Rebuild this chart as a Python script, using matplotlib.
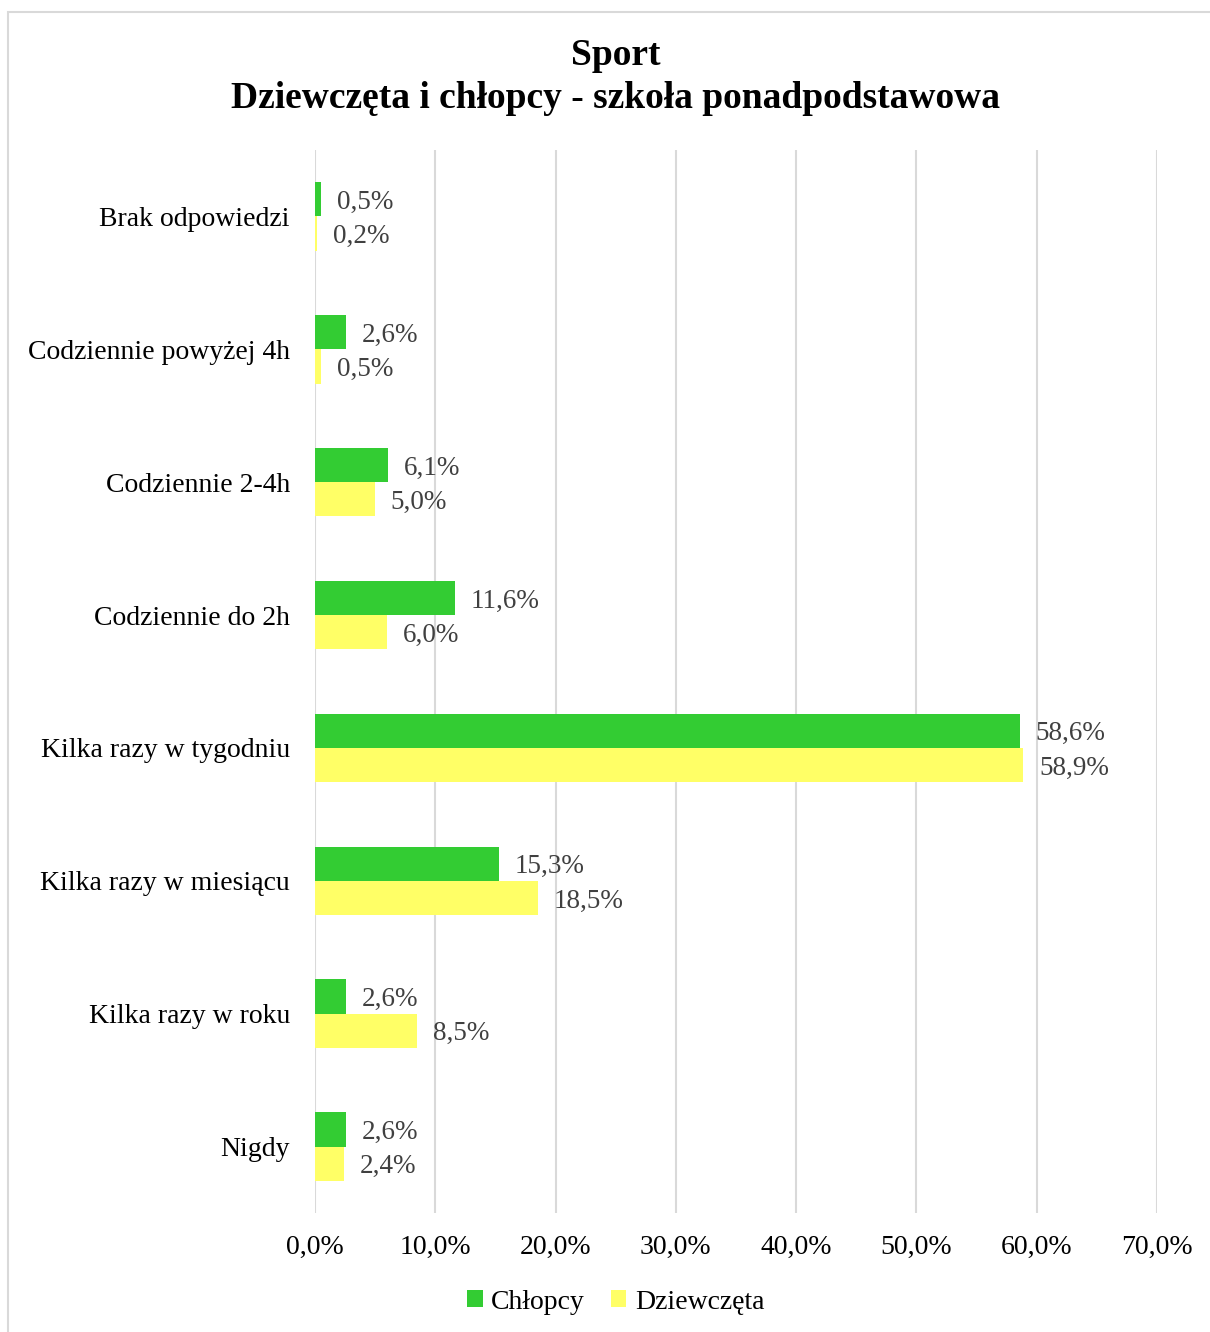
import matplotlib.pyplot as plt
import matplotlib.patches as mpatches
import numpy as np

plt.rcParams['font.family'] = ['Liberation Serif', 'DejaVu Serif']

categories = ['Brak odpowiedzi', 'Codziennie powyżej 4h', 'Codziennie 2-4h',
              'Codziennie do 2h', 'Kilka razy w tygodniu', 'Kilka razy w miesiącu',
              'Kilka razy w roku', 'Nigdy']
chlopcy = [0.5, 2.6, 6.1, 11.6, 58.6, 15.3, 2.6, 2.6]
dziewczeta = [0.2, 0.5, 5.0, 6.0, 58.9, 18.5, 8.5, 2.4]
xticks = [0, 10, 20, 30, 40, 50, 60, 70]

green = '#33CC33'
yellow = '#FFFF66'

fig = plt.figure(figsize=(12.1, 13.32), dpi=100)
ax = fig.add_axes([0.2603, 0.0893, 0.6959, 0.7981])

y = np.arange(len(categories))
h = 0.258
ax.barh(y - h / 2, chlopcy, height=h, color=green, label='Chłopcy', zorder=3)
ax.barh(y + h / 2, dziewczeta, height=h, color=yellow, label='Dziewczęta', zorder=3)

for i in range(len(categories)):
    ax.text(chlopcy[i] + 1.3, y[i] - h / 2, f'{chlopcy[i]:.1f}%'.replace('.', ','),
            va='center_baseline', ha='left', fontsize=19.5, color='#404040')
    ax.text(dziewczeta[i] + 1.3, y[i] + h / 2, f'{dziewczeta[i]:.1f}%'.replace('.', ','),
            va='center_baseline', ha='left', fontsize=19.5, color='#404040')

ax.set_ylim(len(categories) - 0.5, -0.5)
ax.set_xlim(0, 70)
ax.set_yticks(y)
ax.set_yticklabels(categories, fontsize=20)
ax.set_xticks(xticks)
ax.set_xticklabels([f'{v:.1f}%'.replace('.', ',') for v in xticks], fontsize=20)
ax.tick_params(axis='both', length=0)
ax.tick_params(axis='y', pad=18)
ax.tick_params(axis='x', pad=16)
ax.grid(axis='x', color='#d9d9d9', linewidth=1.5, zorder=0)
for s in ax.spines.values():
    s.set_visible(False)

fig.text(0.5087, 0.9587, 'Sport', ha='center', va='center', fontsize=27, fontweight='bold')
fig.text(0.5087, 0.9264, 'Dziewczęta i chłopcy - szkoła ponadpodstawowa',
         ha='center', va='center', fontsize=27, fontweight='bold')

fig.legend(loc='center', bbox_to_anchor=(0.509, 0.0225), ncol=2, frameon=False,
           fontsize=20, handlelength=0.55, handleheight=0.55, handletextpad=0.3,
           columnspacing=0.95)

fig.patches.append(mpatches.Rectangle((8 / 1210, -0.01), 1.0, 1 - 12 / 1332 + 0.01,
                                      transform=fig.transFigure, fill=False,
                                      edgecolor='#d9d9d9', linewidth=1.5))

fig.savefig('out.png', dpi=100)
